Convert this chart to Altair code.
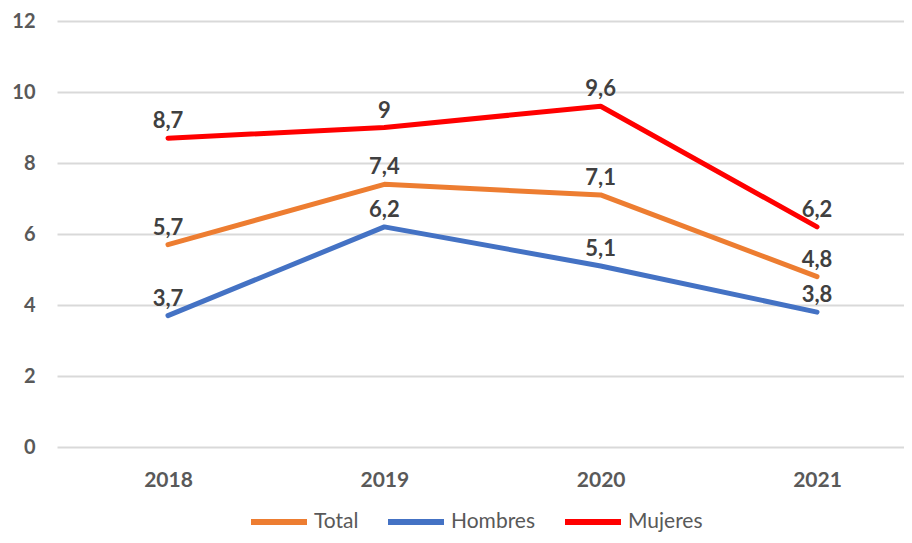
import altair as alt
import pandas as pd

years = [2018, 2019, 2020, 2021]
series_names = ["Total", "Hombres", "Mujeres"]
total = [5.7, 7.4, 7.1, 4.8]
hombres = [3.7, 6.2, 5.1, 3.8]
mujeres = [8.7, 9.0, 9.6, 6.2]
colors = ["#ED7D31", "#4472C4", "#FF0000"]
y_ticks = [0, 2, 4, 6, 8, 10, 12]

rows = []
for name, vals in zip(series_names, [total, hombres, mujeres]):
    for yr, v in zip(years, vals):
        rows.append({"year": yr, "value": v, "serie": name})
df = pd.DataFrame(rows)

FONT = "Lato"

x = alt.X(
    "year:Q",
    scale=alt.Scale(domain=[2017.487, 2021.402], nice=False, zero=False),
    axis=alt.Axis(values=years, format="d", title=None, grid=False, domain=False,
                  ticks=False, labelPadding=22, labelFontSize=21, labelFontWeight="bold",
                  labelColor="#595959", labelFont=FONT),
)
y = alt.Y(
    "value:Q",
    scale=alt.Scale(domain=[0, 12], nice=False),
    axis=alt.Axis(values=y_ticks, title=None, domain=False, ticks=False, labelPadding=22,
                  labelFontSize=20, labelFontWeight="bold", labelColor="#595959",
                  labelFont=FONT, gridColor="#D9D9D9", gridWidth=2),
)
color = alt.Color(
    "serie:N",
    scale=alt.Scale(domain=series_names, range=colors),
    sort=series_names,
    legend=alt.Legend(title=None, orient="none", direction="horizontal",
                      legendX=191, legendY=470, symbolType="stroke",
                      symbolSize=3136, symbolStrokeWidth=6, labelFontSize=21,
                      labelFont=FONT, labelColor="#595959", labelOffset=4,
                      columnPadding=17, symbolOffset=0),
)

lines = alt.Chart(df).mark_line(strokeWidth=5, strokeCap="round", strokeJoin="round").encode(
    x=x, y=y, color=color, order=alt.Order("year:Q"),
    detail="serie:N",
)

labels = alt.Chart(df).transform_calculate(
    lab="replace(toString(datum.value), '.', ',')"
).mark_text(dy=-17, fontSize=22, fontWeight="bold", font=FONT, color="#404040",
            align="center", baseline="middle").encode(
    x=x, y=y, text="lab:N"
)

chart = alt.layer(lines, labels).properties(
    width=847, height=426,
    autosize=alt.AutoSizeParams(type="none"),
    padding={"left": 49, "top": 13, "right": 0, "bottom": 88},
).configure_view(stroke=None)

chart.save("out.html", embed_options={"renderer": "svg", "actions": False})
